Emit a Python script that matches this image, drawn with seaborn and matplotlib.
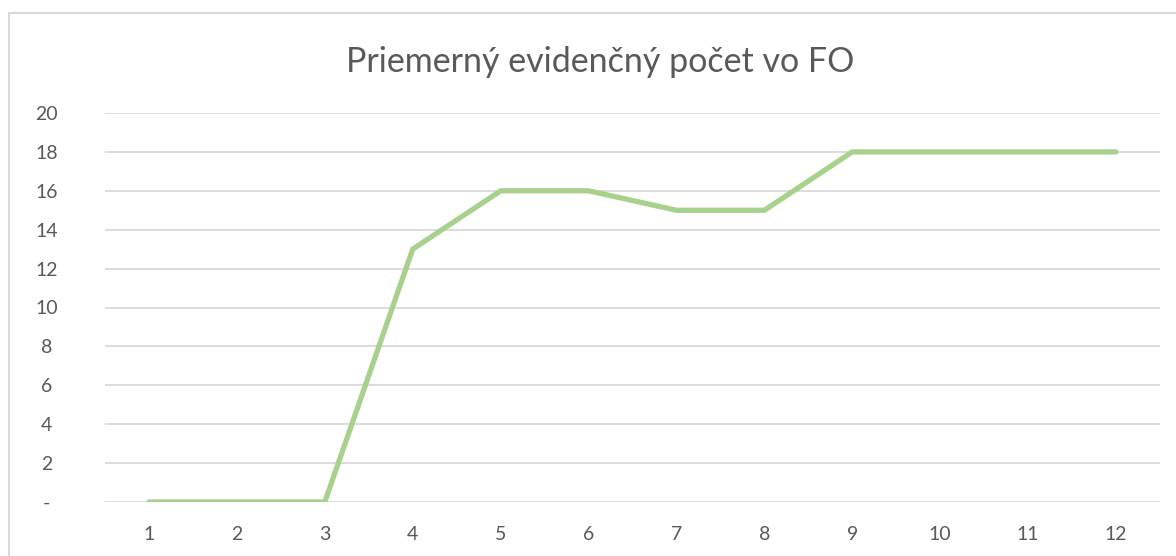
import matplotlib
matplotlib.use("Agg")
import matplotlib.pyplot as plt
import seaborn as sns
import pandas as pd
from matplotlib.patches import Rectangle

months = [1, 2, 3, 4, 5, 6, 7, 8, 9, 10, 11, 12]
counts = [0, 0, 0, 13, 16, 16, 15, 15, 18, 18, 18, 18]
y_ticks = [0, 2, 4, 6, 8, 10, 12, 14, 16, 18, 20]
y_labels = ["-", "2", "4", "6", "8", "10", "12", "14", "16", "18", "20"]
title = "Priemerný evidenčný počet vo FO"


def plot_data(df):
    sns.set_style("white")
    plt.rcParams["font.family"] = ["Lato", "DejaVu Sans"]

    fig = plt.figure(figsize=(11.76, 5.56), dpi=100)
    ax = fig.add_axes([105 / 1176, 1 - 502 / 556, (1160 - 105) / 1176, (502 - 113) / 556])

    # chart frame like the spreadsheet export
    fig.patches.append(Rectangle((9 / 1176, -0.1), 1.2, 1 - 13 / 556 + 0.1,
                                 transform=fig.transFigure, fill=False,
                                 edgecolor="#d9d9d9", linewidth=1.5))

    sns.lineplot(data=df, x="month", y="count", ax=ax, color="#a9d18e",
                 linewidth=3.8, solid_capstyle="round", solid_joinstyle="miter")

    ax.set_xlim(0.5, 12.5)
    ax.set_ylim(0, 20)
    ax.set_xticks(months)
    ax.set_xticklabels([str(m) for m in months])
    ax.set_yticks(y_ticks)
    ax.set_yticklabels(y_labels)
    ax.yaxis.grid(True, color="#d9d9d9", linewidth=1.3)
    ax.set_axisbelow(True)
    for s in ax.spines.values():
        s.set_visible(False)
    ax.tick_params(axis="both", length=0, labelsize=14, colors="#595959")
    ax.tick_params(axis="y", pad=42)
    ax.tick_params(axis="x", pad=17)
    for lbl in ax.get_yticklabels():
        lbl.set_horizontalalignment("center")
    ax.set_xlabel("")
    ax.set_ylabel("")

    fig.text(600 / 1176, 1 - 62 / 556, title, ha="center", va="center",
             fontsize=24.5, color="#595959")

    fig.savefig("out.png", dpi=100)


def main():
    df = pd.DataFrame({"month": months, "count": counts})
    plot_data(df)


if __name__ == "__main__":
    main()
